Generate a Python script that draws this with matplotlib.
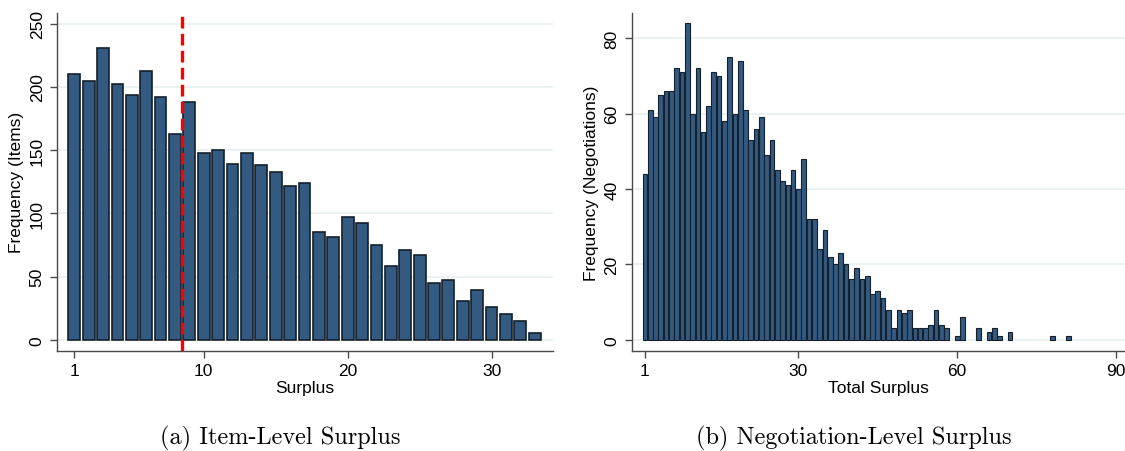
import matplotlib
matplotlib.use('Agg')
import matplotlib.pyplot as plt
import numpy as np

# item-level surplus histogram (one bar per surplus value 1..33)
item_surplus = list(range(1, 34))
item_freq = [210, 205, 231, 202, 194, 213, 192, 163, 188, 148,
             150, 139, 148, 138, 133, 122, 124, 85, 81, 97,
             92, 75, 58, 71, 67, 45, 47, 31, 39, 26,
             20, 15, 5]
item_cutoff = 8.5

# negotiation-level surplus histogram (total surplus 1..81)
neg_surplus = list(range(1, 82))
neg_freq = [44, 61, 59, 65, 66, 66, 72, 71, 84, 60,
            72, 55, 62, 71, 70, 58, 75, 60, 74, 61,
            53, 56, 59, 49, 53, 45, 42, 41, 45, 40,
            48, 32, 32, 24, 29, 22, 20, 23, 20, 16,
            19, 16, 17, 12, 13, 11, 8, 3, 8, 7,
            8, 3, 3, 3, 4, 8, 4, 3, 0, 1,
            6, 0, 0, 3, 0, 2, 3, 1, 0, 2,
            0, 0, 0, 0, 0, 0, 0, 1, 0, 0,
            1]

left_xticks = [1, 10, 20, 30]
left_yticks = [0, 50, 100, 150, 200, 250]
right_xticks = [1, 30, 60, 90]
right_yticks = [0, 20, 40, 60, 80]

bar_color = '#335a80'
edge_color = '#15202b'
grid_color = '#e8f0f2'
axis_color = '#4a4a4a'

plt.rcParams['font.family'] = ['Liberation Sans', 'DejaVu Sans']

fig = plt.figure(figsize=(11.25, 4.52), dpi=100)
ax1 = fig.add_axes([0.0509, 0.2219, 0.4404, 0.7471])
ax2 = fig.add_axes([0.5615, 0.2219, 0.4385, 0.7471])


def style_axis(ax, xticks, yticks):
    ax.set_xticks(xticks)
    ax.set_yticks(yticks)
    for s in ['top', 'right']:
        ax.spines[s].set_visible(False)
    for s in ['left', 'bottom']:
        ax.spines[s].set_color(axis_color)
        ax.spines[s].set_linewidth(1.0)
    ax.tick_params(axis='both', direction='out', length=5, width=1.0,
                   color=axis_color, labelsize=12.5)
    ax.tick_params(axis='x', pad=3.5)
    ax.tick_params(axis='y', pad=4)
    for lab in ax.get_yticklabels():
        lab.set_rotation(90)
        lab.set_va('center')
    ax.set_axisbelow(True)
    ax.yaxis.grid(True, color=grid_color, linewidth=1.2)


'''Item-level surplus'''
ax1.bar(item_surplus, item_freq, width=0.82, color=bar_color,
        edgecolor=edge_color, linewidth=1.2)
ax1.axvline(item_cutoff, color='red', linestyle=(0, (3.5, 1.6)), linewidth=2.4)
ax1.set_xlim(-0.18, 34.25)
ax1.set_ylim(-8.7, 258.5)
style_axis(ax1, left_xticks, left_yticks)
ax1.set_xlabel('Surplus', fontsize=12.5, labelpad=2)
ax1.set_ylabel('Frequency (Items)', fontsize=12.5, labelpad=4)

'''Negotiation-level surplus'''
# empty bins are not drawn (no outline at zero)
nz_x = [x for x, f in zip(neg_surplus, neg_freq) if f > 0]
nz_f = [f for f in neg_freq if f > 0]
ax2.bar(nz_x, nz_f, width=0.88, color=bar_color,
        edgecolor=edge_color, linewidth=0.8)
ax2.set_xlim(-1.5, 91.7)
ax2.set_ylim(-2.92, 86.7)
style_axis(ax2, right_xticks, right_yticks)
ax2.set_xlabel('Total Surplus', fontsize=12.5, labelpad=2)
ax2.set_ylabel('Frequency (Negotiations)', fontsize=12.5, labelpad=4)

# captions under each panel
fig.text(280 / 1125, 1 - 438 / 452, '(a) Item-Level Surplus',
         ha='center', va='center', fontsize=17.5, family='cmr10')
fig.text(854 / 1125, 1 - 438 / 452, '(b) Negotiation-Level Surplus',
         ha='center', va='center', fontsize=17.5, family='cmr10')

plt.savefig('out.png', dpi=100)
